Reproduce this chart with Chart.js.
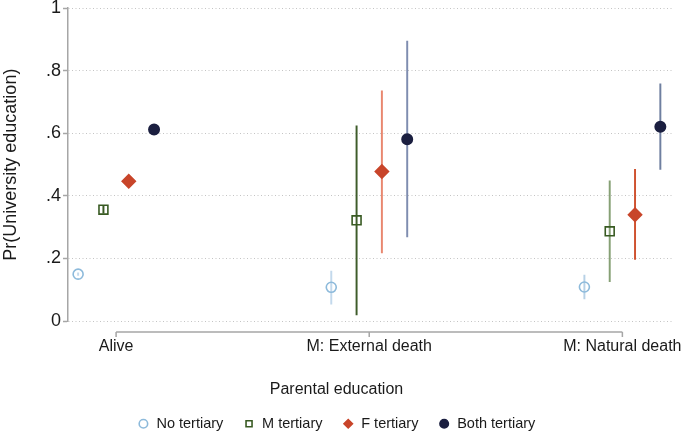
<!DOCTYPE html>
<html>
<head>
<meta charset="utf-8">
<script src="https://cdn.jsdelivr.net/npm/chart.js@4/dist/chart.umd.min.js"></script>
<style>
  html, body { margin: 0; padding: 0; background: #ffffff; }
  #wrap { width: 686px; height: 434px; }
</style>
</head>
<body>
<div id="wrap"><canvas id="c" width="686" height="434"></canvas></div>
<script>
// ---- data ----
const categories = ['Alive', 'M: External death', 'M: Natural death'];
const seriesNames = ['No tertiary', 'M tertiary', 'F tertiary', 'Both tertiary'];

const noTertiary   = [0.150, 0.108, 0.109];
const mTertiary    = [0.356, 0.322, 0.287];
const fTertiary    = [0.447, 0.478, 0.340];
const bothTertiary = [0.612, 0.581, 0.621];

const noTertiaryLo   = [0.146, 0.054, 0.071];
const noTertiaryHi   = [0.154, 0.160, 0.147];
const mTertiaryLo    = [0.345, 0.020, 0.126];
const mTertiaryHi    = [0.367, 0.624, 0.448];
const fTertiaryLo    = [null, 0.218, 0.197];
const fTertiaryHi    = [null, 0.736, 0.485];
const bothTertiaryLo = [null, 0.269, 0.485];
const bothTertiaryHi = [null, 0.895, 0.758];

const yTickValues = [0, 0.2, 0.4, 0.6, 0.8, 1];
const yTickLabels = ['0', '.2', '.4', '.6', '.8', '1'];
const xTickValues = [1, 2, 3];

// ---- styling / layout ----
const seriesOffset = [-0.15, -0.05, 0.05, 0.15];
const FONT = "'Liberation Sans', Arial, Helvetica, sans-serif";
const TEXT = '#1a1a1a';
const AXIS = '#a6a6a6';

const pointStyles = [
  { pointStyle: 'circle',  radius: 5,   bg: 'rgba(0,0,0,0)', border: '#8dbadb' },
  { pointStyle: 'rect',    radius: 6.3, bg: 'rgba(0,0,0,0)', border: '#385a22' },
  { pointStyle: 'rectRot', radius: 6.6, bg: '#c8452a',       border: '#c8452a' },
  { pointStyle: 'circle',  radius: 5.2, bg: '#1b1f40',       border: '#1b1f40' }
];
const ciColors = [
  ['#c3d9ec', '#c3d9ec', '#b7d1e6'],
  ['#385a22', '#3e5c2a', '#86a075'],
  ['#e0785e', '#e9876f', '#cf5230'],
  ['#1b1f40', '#7f8db0', '#6f7fa0']
];

const values = [noTertiary, mTertiary, fTertiary, bothTertiary];
const lows   = [noTertiaryLo, mTertiaryLo, fTertiaryLo, bothTertiaryLo];
const highs  = [noTertiaryHi, mTertiaryHi, fTertiaryHi, bothTertiaryHi];

const pointDatasets = seriesNames.map((name, s) => ({
  type: 'scatter',
  label: name,
  order: 1,
  data: values[s].map((v, i) => ({ x: xTickValues[i] + seriesOffset[s], y: v })),
  pointStyle: pointStyles[s].pointStyle,
  pointRadius: pointStyles[s].radius,
  pointHoverRadius: pointStyles[s].radius,
  backgroundColor: pointStyles[s].bg,
  borderColor: pointStyles[s].border,
  borderWidth: 1.6,
  pointBorderWidth: 1.6
}));

const ciDatasets = seriesNames.map((name, s) => ({
  type: 'bar',
  label: name + ' CI',
  order: 2,
  grouped: false,
  barThickness: 1.3,
  borderWidth: 0,
  backgroundColor: ciColors[s],
  data: lows[s].map((lo, i) => ({
    x: xTickValues[i] + seriesOffset[s],
    y: (lo === null || highs[s][i] === null) ? null : [lo, highs[s][i]]
  }))
}));

// x axis drawn Stata style: detached line below the plot between the outer ticks
const detachedXAxis = {
  id: 'detachedXAxis',
  afterDraw(chart) {
    const xs = chart.scales.x;
    const ctx = chart.ctx;
    const y = chart.chartArea.bottom + 11;
    const x0 = xs.getPixelForValue(xTickValues[0]);
    const x1 = xs.getPixelForValue(xTickValues[xTickValues.length - 1]);
    ctx.save();
    ctx.strokeStyle = AXIS;
    ctx.lineWidth = 1.5;
    ctx.beginPath();
    ctx.moveTo(x0, y);
    ctx.lineTo(x1, y);
    xTickValues.forEach(v => {
      const px = xs.getPixelForValue(v);
      ctx.moveTo(px, y);
      ctx.lineTo(px, y + 5);
    });
    ctx.stroke();
    ctx.restore();
  }
};

Chart.defaults.font.family = FONT;
Chart.defaults.color = TEXT;

new Chart(document.getElementById('c'), {
  type: 'scatter',
  data: { datasets: [...pointDatasets, ...ciDatasets] },
  options: {
    responsive: false,
    devicePixelRatio: 1,
    animation: false,
    events: [],
    layout: { padding: { top: 8, right: 13, bottom: -7, left: 0 } },
    scales: {
      x: {
        type: 'linear',
        min: 0.81,
        max: 3.2,
        offset: false,
        grid: { display: false, drawTicks: false, offset: false },
        border: { display: false },
        afterBuildTicks(scale) { scale.ticks = xTickValues.map(v => ({ value: v })); },
        afterFit(scale) { scale.paddingLeft = 0; scale.paddingRight = 0; },
        ticks: {
          padding: 16,
          maxRotation: 0,
          autoSkip: false,
          font: { size: 16 },
          color: TEXT,
          callback: (v, i) => categories[i]
        },
        title: { display: false }
      },
      y: {
        min: 0,
        max: 1,
        afterBuildTicks(scale) { scale.ticks = yTickValues.map(v => ({ value: v })); },
        afterFit(scale) { scale.width = 68; scale.paddingTop = 0; scale.paddingBottom = 0; },
        grid: {
          color: '#c4c4c4',
          lineWidth: 1,
          drawTicks: true,
          tickLength: 5,
          tickColor: AXIS,
          tickWidth: 1.5,
          tickBorderDash: []
        },
        border: { display: true, color: AXIS, width: 1.5, dash: [1, 2.5] },
        ticks: {
          padding: 2,
          font: { size: 18 },
          color: TEXT,
          callback: (v, i) => yTickLabels[i]
        },
        title: {
          display: true,
          text: 'Pr(University education)',
          font: { size: 18 },
          color: TEXT,
          padding: { top: 0, bottom: 0 }
        }
      }
    },
    plugins: {
      tooltip: { enabled: false },
      title: {
        display: true,
        text: 'Parental education',
        position: 'bottom',
        weight: 500,
        color: TEXT,
        font: { size: 16, weight: 'normal' },
        padding: { top: 8, bottom: -3 }
      },
      legend: {
        position: 'bottom',
        labels: {
          usePointStyle: true,
          boxWidth: 11.5,
          boxHeight: 6,
          padding: 20,
          color: TEXT,
          font: { size: 14.5 },
          filter: item => item.datasetIndex < seriesNames.length
        }
      }
    }
  },
  plugins: [detachedXAxis]
});
</script>
</body>
</html>
